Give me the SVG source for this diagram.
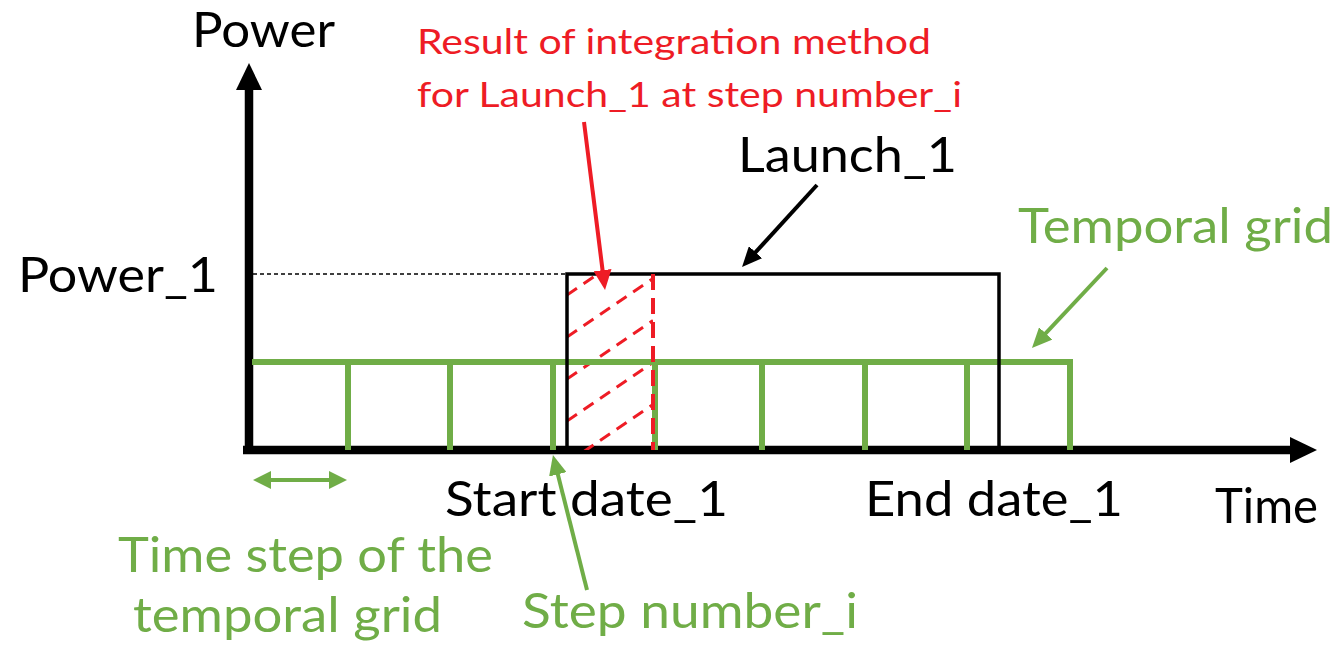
<svg xmlns="http://www.w3.org/2000/svg" width="1341" height="651" viewBox="0 0 1341 651">
<style>
text{font-family:Lato,"Open Sans","Liberation Sans",sans-serif;}
.blk{fill:#000;font-size:49px;}
.grn{fill:#70AD47;font-size:49px;}
.red{fill:#EE1C25;font-size:35px;}
.axis{stroke:#000;stroke-width:8.5;fill:none;}
.grid{stroke:#70AD47;stroke-width:6;fill:none;}
.hatch{stroke:#EE1C25;stroke-width:3;stroke-dasharray:12 8;fill:none;}
</style>
<defs>
<marker id="axHead" markerUnits="userSpaceOnUse" viewBox="0 0 27 26" markerWidth="27" markerHeight="26" refX="2" refY="13" orient="auto"><path d="M0,0 L27,13 L0,26 z" fill="#000"/></marker>
<marker id="blkHead" markerUnits="userSpaceOnUse" viewBox="0 0 20 18" markerWidth="20" markerHeight="18" refX="10" refY="9" orient="auto"><path d="M0,0 L20,9 L0,18 z" fill="#000"/></marker>
<marker id="redHead" markerUnits="userSpaceOnUse" viewBox="0 0 20 18" markerWidth="20" markerHeight="18" refX="10" refY="9" orient="auto"><path d="M0,0 L20,9 L0,18 z" fill="#EE1C25"/></marker>
<marker id="grnHead" markerUnits="userSpaceOnUse" viewBox="0 0 20 18" markerWidth="20" markerHeight="18" refX="10" refY="9" orient="auto"><path d="M0,0 L20,9 L0,18 z" fill="#70AD47"/></marker>
<marker id="grnDbl" markerUnits="userSpaceOnUse" viewBox="0 0 18 18" markerWidth="18" markerHeight="18" refX="9" refY="9" orient="auto-start-reverse"><path d="M0,0 L18,9 L0,18 z" fill="#70AD47"/></marker>
<clipPath id="hatchClip"><rect x="567" y="274" width="86" height="176"/></clipPath>
</defs>

<g id="axes">
<line class="axis" x1="249" y1="454" x2="249" y2="88" marker-end="url(#axHead)"/>
<line class="axis" x1="243" y1="450" x2="1292" y2="450" marker-end="url(#axHead)"/>
<text class="blk" x="192" y="47" textLength="143" lengthAdjust="spacingAndGlyphs">Power</text>
<text class="blk" x="1215" y="523" textLength="103" lengthAdjust="spacingAndGlyphs">Time</text>
</g>

<g id="power1">
<line x1="253" y1="274" x2="567" y2="274" stroke="#000" stroke-width="1.5" stroke-dasharray="4 3"/>
<text class="blk" x="18" y="292" textLength="200" lengthAdjust="spacingAndGlyphs">Power_1</text>
</g>

<g id="hatched-area">
<g clip-path="url(#hatchClip)">
<line class="hatch" x1="567" y1="295" x2="653" y2="236.5"/>
<line class="hatch" x1="567" y1="337" x2="653" y2="278.5"/>
<line class="hatch" x1="567" y1="379" x2="653" y2="320.5"/>
<line class="hatch" x1="567" y1="421" x2="653" y2="362.5"/>
<line class="hatch" x1="567" y1="463" x2="653" y2="404.5"/>
</g>
</g>

<g id="temporal-grid">
<polyline class="grid" points="252,362 1070,362 1070,450"/>
<line class="grid" x1="348" y1="362" x2="348" y2="450"/>
<line class="grid" x1="450" y1="362" x2="450" y2="450"/>
<line class="grid" x1="553" y1="362" x2="553" y2="450"/>
<line class="grid" x1="655" y1="362" x2="655" y2="450"/>
<line class="grid" x1="762" y1="362" x2="762" y2="450"/>
<line class="grid" x1="865" y1="362" x2="865" y2="450"/>
<line class="grid" x1="967" y1="362" x2="967" y2="450"/>
<text class="grn" x="1018" y="243" textLength="315" lengthAdjust="spacingAndGlyphs">Temporal grid</text>
</g>

<g id="launch1">
<polyline points="567,450 567,274 999,274 999,450" fill="none" stroke="#000" stroke-width="3.5"/>
<text class="blk" x="738" y="172" textLength="219" lengthAdjust="spacingAndGlyphs">Launch_1</text>
</g>

<g id="step-boundary">
<line x1="653" y1="274" x2="653" y2="450" stroke="#EE1C25" stroke-width="4" stroke-dasharray="16 8"/>
</g>

<g id="result-label">
<text class="red" x="417" y="54" textLength="514" lengthAdjust="spacingAndGlyphs">Result of integration method</text>
<text class="red" x="417" y="107" textLength="545" lengthAdjust="spacingAndGlyphs">for Launch_1 at step number_i</text>
</g>

<g id="dates">
<text class="blk" x="445" y="516" textLength="283" lengthAdjust="spacingAndGlyphs">Start date_1</text>
<text class="blk" x="865" y="516" textLength="258" lengthAdjust="spacingAndGlyphs">End date_1</text>
</g>

<g id="time-step-label">
<text class="grn" x="118" y="572" textLength="375" lengthAdjust="spacingAndGlyphs">Time step of the</text>
<text class="grn" x="133" y="632" textLength="309" lengthAdjust="spacingAndGlyphs">temporal grid</text>
</g>

<g id="step-number-label">
<text class="grn" x="522" y="628" textLength="336" lengthAdjust="spacingAndGlyphs">Step number_i</text>
</g>

<g id="connectors">
<line x1="817" y1="185" x2="748.8" y2="259.6" stroke="#000" stroke-width="4" marker-end="url(#blkHead)"/>
<line x1="584" y1="122" x2="603.8" y2="280.1" stroke="#EE1C25" stroke-width="4" marker-end="url(#redHead)"/>
<line x1="1107" y1="268" x2="1038.8" y2="340.7" stroke="#70AD47" stroke-width="4" marker-end="url(#grnHead)"/>
<line x1="587" y1="590" x2="555.4" y2="464.7" stroke="#70AD47" stroke-width="4" marker-end="url(#grnHead)"/>
<line x1="262" y1="480" x2="338" y2="480" stroke="#70AD47" stroke-width="4" marker-start="url(#grnDbl)" marker-end="url(#grnDbl)"/>
</g>
</svg>
